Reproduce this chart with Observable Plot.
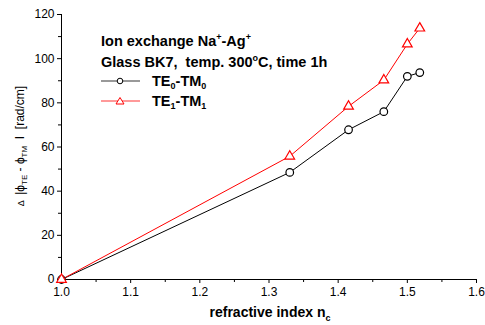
<!DOCTYPE html>
<html><head><meta charset="utf-8">
<script src="https://cdn.jsdelivr.net/npm/d3@7"></script>
<script src="https://cdn.jsdelivr.net/npm/@observablehq/plot@0.6"></script>
<style>
body{margin:0;background:#fff;}
svg{font-family:"Liberation Sans",Arial,sans-serif;}
</style></head>
<body><div id="chart"></div>
<script>
const nc = [1.0, 1.33, 1.415, 1.466, 1.5, 1.518];
const te0tm0 = [0, 48.5, 67.8, 76.0, 92.0, 93.7];
const te1tm1 = [0, 55.8, 78.4, 90.3, 106.6, 113.8];
const xTicks = [1.0, 1.1, 1.2, 1.3, 1.4, 1.5, 1.6];
const xMinor = [1.05, 1.15, 1.25, 1.35, 1.45, 1.55];
const yTicks = [0, 20, 40, 60, 80, 100, 120];
const yMinor = [10, 30, 50, 70, 90, 110];
const xDomain = [1.0, 1.6];
const yDomain = [0, 120];

const black = nc.map((x, i) => ({x, y: te0tm0[i]}));
const red = nc.map((x, i) => ({x, y: te1tm1[i]}));

const chart = Plot.plot({
  width: 485, height: 325,
  marginLeft: 61, marginRight: 9, marginTop: 14, marginBottom: 46,
  x: {domain: xDomain},
  y: {domain: yDomain},
  style: {fontFamily: "Liberation Sans, Arial, sans-serif", fontSize: "12px", color: "#000", background: "#fff"},
  marks: [
    Plot.axisX({ticks: xTicks, tickFormat: d3.format(".1f"), tickSize: 4, tickPadding: 4, label: null, fontSize: 12, strokeWidth: 1}),
    Plot.axisX({ticks: xMinor, tickSize: 3, text: null, label: null}),
    Plot.axisY({ticks: yTicks, tickFormat: d => d, tickSize: 4, tickPadding: 3, label: null, fontSize: 12}),
    Plot.axisY({ticks: yMinor, tickSize: 3, text: null, label: null}),
    Plot.ruleY([yDomain[0]], {stroke: "#000", strokeWidth: 1}),
    Plot.ruleX([xDomain[0]], {stroke: "#000", strokeWidth: 1}),
    Plot.line(black, {x: "x", y: "y", stroke: "#000", strokeWidth: 1}),
    Plot.line(red, {x: "x", y: "y", stroke: "#ff0000", strokeWidth: 1}),
    Plot.dot(black, {x: "x", y: "y", symbol: "circle", r: 3.8, stroke: "#000", fill: "#fff", strokeWidth: 1.2}),
    Plot.dot(red, {x: "x", y: "y", symbol: "triangle", r: 3.6, stroke: "#ff0000", fill: "#fff", strokeWidth: 1.2})
  ]
});
document.getElementById("chart").appendChild(chart);

const svg = d3.select(chart);
const ff = "Liberation Sans, Arial, sans-serif";
// legend / annotation
const ann = svg.append("g").attr("font-family", ff).attr("font-weight", "bold").attr("font-size", 14.5).attr("fill", "#000").attr("text-anchor", "start");
const t1 = ann.append("text").attr("x", 101).attr("y", 46);
t1.append("tspan").text("Ion exchange Na");
t1.append("tspan").attr("font-size", 9).attr("dy", -6).text("+");
t1.append("tspan").attr("dy", 6).text("-Ag");
t1.append("tspan").attr("font-size", 9).attr("dy", -6).text("+");
const t2 = ann.append("text").attr("x", 101).attr("y", 67);
t2.append("tspan").text("Glass BK7,  temp. 300");
t2.append("tspan").attr("font-size", 9).attr("dy", -6).text("o");
t2.append("tspan").attr("dy", 6).text("C, time 1h");

const lg = svg.append("g");
lg.append("line").attr("x1", 101).attr("x2", 140).attr("y1", 81).attr("y2", 81).attr("stroke", "#777").attr("stroke-width", 1.3);
lg.append("circle").attr("cx", 120).attr("cy", 81).attr("r", 2.8).attr("fill", "#fff").attr("stroke", "#000").attr("stroke-width", 1);
lg.append("line").attr("x1", 101).attr("x2", 140).attr("y1", 101).attr("y2", 101).attr("stroke", "#f77").attr("stroke-width", 1.3);
lg.append("path").attr("d", "M120,97.5 L124,104 L116,104 Z").attr("fill", "#fff").attr("stroke", "#f00").attr("stroke-width", 1);
const l1 = ann.append("text").attr("x", 152).attr("y", 86);
l1.append("tspan").text("TE");
l1.append("tspan").attr("font-size", 9).attr("dy", 3).text("0");
l1.append("tspan").attr("dy", -3).text("-TM");
l1.append("tspan").attr("font-size", 9).attr("dy", 3).text("0");
const l2 = ann.append("text").attr("x", 152).attr("y", 106);
l2.append("tspan").text("TE");
l2.append("tspan").attr("font-size", 9).attr("dy", 3).text("1");
l2.append("tspan").attr("dy", -3).text("-TM");
l2.append("tspan").attr("font-size", 9).attr("dy", 3).text("1");

// x label
const xl = svg.append("text").attr("x", 270).attr("y", 317).attr("text-anchor", "middle")
  .attr("font-family", ff).attr("font-weight", "bold").attr("font-size", 14);
xl.append("tspan").text("refractive index n");
xl.append("tspan").attr("font-size", 9).attr("dy", 4).text("c");

// y label
const yl = svg.append("text").attr("transform", "translate(24,146) rotate(-90)").attr("text-anchor", "middle")
  .attr("font-family", ff).attr("font-size", 12);
yl.append("tspan").attr("font-size", 9).text("Δ ");
yl.append("tspan").text(" |ϕ");
yl.append("tspan").attr("font-size", 8).attr("dy", 3).text("TE");
yl.append("tspan").attr("dy", -3).text(" - ϕ");
yl.append("tspan").attr("font-size", 8).attr("dy", 3).text("TM");
yl.append("tspan").attr("dy", -3).text("  I  [rad/cm]");
</script></body></html>
